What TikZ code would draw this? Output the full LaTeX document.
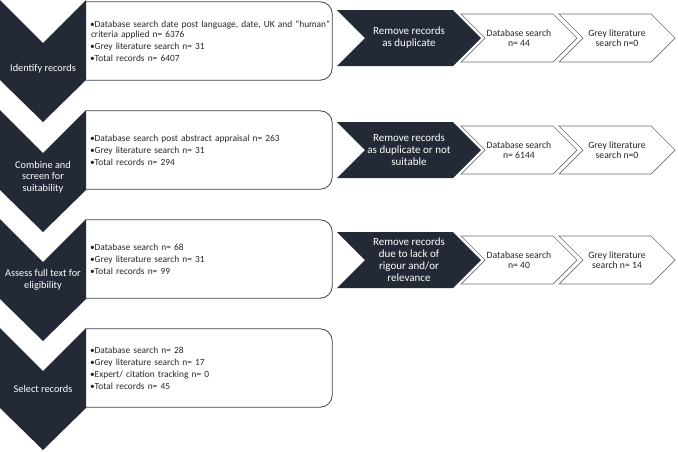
\documentclass[tikz,border=0pt]{standalone}
\usepackage{fontspec}
\setmainfont{Carlito}
\usepackage{xcolor}
\definecolor{chevnavy}{RGB}{35,42,54}
\definecolor{edgegray}{RGB}{110,110,110}
\definecolor{boxedge}{RGB}{60,64,72}
\definecolor{textdark}{RGB}{38,38,38}
\usepackage{tikz}
\usetikzlibrary{shapes.symbols}

\begin{document}
\begin{tikzpicture}[x=1pt, y=-1pt,
    stagetext/.style={text=white, font=\fontsize{10.3}{11.5}\selectfont, align=center},
    record/.style={minimum width=246pt, minimum height=78pt, text width=238pt,
      inner xsep=4pt, inner ysep=0pt, align=left, text=textdark,
      font=\fontsize{9.4}{10.5}\selectfont},
    recordedge/.style={draw=boxedge, line width=0.8pt, rounded corners=12pt},
    removal/.style={signal, signal from=west, signal to=east, signal pointer angle=90,
      fill=chevnavy, text=white, minimum width=144pt, minimum height=56pt, inner sep=0pt,
      align=center, font=\fontsize{11}{12}\selectfont},
    count/.style={signal, signal from=west, signal to=east, signal pointer angle=90,
      draw=edgegray, line width=0.7pt, fill=white, text=textdark, minimum width=116pt,
      minimum height=48pt, inner sep=0pt, align=center, font=\fontsize{9.7}{10.5}\selectfont}]
  \useasboundingbox (0,0) rectangle (678,451);

  % Record boxes
  \node[record] (r1) at (209,41) {\mbox{\textbullet Database search date post language, date, UK and “human”}\\
    \hspace*{1pt}criteria applied n= 6376\\[1.5pt]
    \textbullet Grey literature search n= 31\\[1.5pt]
    \textbullet Total records n= 6407};
  \node[record] (r2) at (209,150) {\textbullet Database search post abstract appraisal n= 263\\[1.5pt]
    \textbullet Grey literature search n= 31\\[1.5pt]
    \textbullet Total records n= 294};
  \node[record] (r3) at (209,259) {\textbullet Database search n= 68\\[1.5pt]
    \textbullet Grey literature search n= 31\\[1.5pt]
    \textbullet Total records n= 99};
  \node[record] (r4) at (209,368) {\textbullet Database search n= 28\\[1.5pt]
    \textbullet Grey literature search n= 17\\[1.5pt]
    \textbullet Expert/ citation tracking n= 0\\[1.5pt]
    \textbullet Total records n= 45};
  \foreach \i in {1,...,4}
    \draw[recordedge] (r\i.north west) -- (r\i.north east) -- (r\i.south east) -- (r\i.south west);

  % Stage chevrons
  \foreach \y in {0, 110, 219, 328}
    \fill[chevnavy] (0,\y) -- (43,\y+43) -- (86,\y) -- (86,\y+80) -- (43,\y+122) -- (0,\y+80) -- cycle;
  \node[stagetext] (t1) at (43,69) {Identify records};
  \node[stagetext] (t2) at (43,177) {Combine and\\screen for\\suitability};
  \node[stagetext] (t3) at (43,280) {Assess full text for\\eligibility};
  \node[stagetext] (t4) at (43,389) {Select records};

  % Removed records
  \node[removal] (x1) at (409,38) {Remove records\\as duplicate};
  \node[count] (d1) at (519,38) {Database search\\n= 44};
  \node[count] (g1) at (617,38) {Grey literature\\search n=0};

  \node[removal] (x2) at (409,150) {Remove records\\as duplicate or not\\suitable};
  \node[count] (d2) at (519,150) {Database search\\n= 6144};
  \node[count] (g2) at (617,150) {Grey literature\\search n=0};

  \node[removal] (x3) at (409,260) {Remove records\\due to lack of\\rigour and/or\\relevance};
  \node[count] (d3) at (519,260) {Database search\\n= 40};
  \node[count] (g3) at (617,260) {Grey literature\\search n= 14};
\end{tikzpicture}
\end{document}
